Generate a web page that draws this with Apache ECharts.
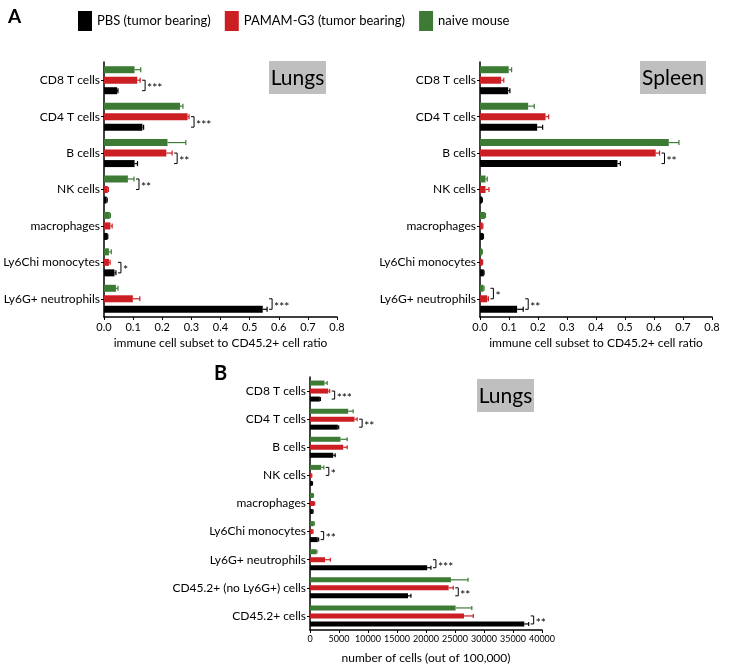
<!DOCTYPE html>
<html><head><meta charset="utf-8">
<script src="https://cdn.jsdelivr.net/npm/echarts@6/dist/echarts.min.js"></script>
<style>html,body{margin:0;padding:0;background:#fff}#c{width:741px;height:669px}</style>
</head><body><div id="c"></div>
<script>
// ---------- data ----------
const seriesNames = ['naive mouse', 'PAMAM-G3 (tumor bearing)', 'PBS (tumor bearing)'];
const legendOrder = ['PBS (tumor bearing)', 'PAMAM-G3 (tumor bearing)', 'naive mouse'];

const categoriesA = ['CD8 T cells', 'CD4 T cells', 'B cells', 'NK cells', 'macrophages', 'Ly6Chi monocytes', 'Ly6G+ neutrophils'];
const categoriesB = ['CD8 T cells', 'CD4 T cells', 'B cells', 'NK cells', 'macrophages', 'Ly6Chi monocytes', 'Ly6G+ neutrophils', 'CD45.2+ (no Ly6G+) cells', 'CD45.2+ cells'];

// Panel A - Lungs (ratio)
const lungsNaive    = [0.105, 0.261, 0.218, 0.082, 0.020, 0.017, 0.041];
const lungsNaiveErr = [0.021, 0.010, 0.063, 0.021, 0.002, 0.008, 0.007];
const lungsPamam    = [0.114, 0.287, 0.214, 0.013, 0.022, 0.017, 0.099];
const lungsPamamErr = [0.010, 0.005, 0.020, 0.002, 0.006, 0.004, 0.024];
const lungsPbs      = [0.045, 0.132, 0.105, 0.009, 0.012, 0.036, 0.545];
const lungsPbsErr   = [0.003, 0.004, 0.010, 0.002, 0.001, 0.005, 0.015];
// significance: [category index, pair (0 = naive vs PAMAM, 1 = PAMAM vs PBS), number of stars]
const lungsSig = [[0, 1, 3], [1, 1, 3], [2, 1, 2], [3, 0, 2], [5, 1, 1], [6, 1, 3]];

// Panel A - Spleen (ratio)
const spleenNaive    = [0.099, 0.166, 0.651, 0.019, 0.017, 0.007, 0.012];
const spleenNaiveErr = [0.010, 0.021, 0.035, 0.006, 0.002, 0.001, 0.002];
const spleenPamam    = [0.073, 0.226, 0.606, 0.019, 0.009, 0.008, 0.025];
const spleenPamamErr = [0.009, 0.011, 0.013, 0.012, 0.001, 0.001, 0.004];
const spleenPbs      = [0.097, 0.197, 0.474, 0.007, 0.011, 0.013, 0.128];
const spleenPbsErr   = [0.006, 0.019, 0.010, 0.001, 0.001, 0.001, 0.021];
const spleenSig = [[2, 1, 2], [6, 0, 1], [6, 1, 2]];

// Panel B - Lungs (number of cells)
const cellsNaive    = [2500, 6580, 5260, 1930, 550, 660, 1100, 24300, 25100];
const cellsNaiveErr = [460, 860, 1150, 450, 50, 80, 100, 2950, 2800];
const cellsPamam    = [3140, 7670, 5720, 260, 720, 480, 2600, 23900, 26550];
const cellsPamamErr = [250, 460, 690, 50, 100, 50, 900, 800, 1600];
const cellsPbs      = [1700, 4800, 4000, 380, 480, 1340, 20200, 16900, 36950];
const cellsPbsErr   = [100, 150, 340, 50, 50, 150, 650, 500, 750];
const cellsSig = [[0, 1, 3], [1, 1, 2], [3, 0, 1], [5, 1, 2], [6, 1, 3], [7, 1, 2], [8, 1, 2]];

const ticksA = [0, 0.8, 0.1];
const ticksB = [0, 40000, 5000];

// ---------- styling ----------
const FONT = 'Lato, "Liberation Sans", sans-serif';
const colors = ['#3d7b35', '#cc1f24', '#000000'];

function panel(g, cats, vals, errs, sig, barW, gapFrac, cap) {
  const sp = barW * (1 + gapFrac);
  const series = [];
  for (let s = 0; s < 3; s++) {
    series.push({
      type: 'bar', name: seriesNames[s], xAxisIndex: g, yAxisIndex: g,
      data: vals[s], barWidth: barW, barGap: (gapFrac * 100) + '%',
      itemStyle: { color: colors[s] }, silent: true, z: 2
    });
  }
  const errData = [];
  for (let s = 0; s < 3; s++) {
    vals[s].forEach((v, i) => errData.push([i, v, errs[s][i], s]));
  }
  series.push({
    type: 'custom', xAxisIndex: g, yAxisIndex: g, silent: true, z: 3,
    data: errData, encode: { x: 1, y: 0 },
    renderItem: (params, api) => {
      const cat = api.value(0), v = api.value(1), e = api.value(2), s = api.value(3);
      const a = api.coord([v, cat]), b = api.coord([v + e, cat]);
      const y = a[1] + (s - 1) * sp;
      const col = colors[s];
      return { type: 'group', children: [
        { type: 'line', shape: { x1: a[0], y1: y, x2: b[0], y2: y }, style: { stroke: col, lineWidth: 1.2 } },
        { type: 'line', shape: { x1: b[0], y1: y - cap, x2: b[0], y2: y + cap }, style: { stroke: col, lineWidth: 1.2 } }
      ] };
    }
  });
  const sigData = sig.map(([c, pair, n]) => {
    const end = Math.max(vals[pair][c] + errs[pair][c], vals[pair + 1][c] + errs[pair + 1][c]);
    return [c, pair, n, end];
  });
  series.push({
    type: 'custom', xAxisIndex: g, yAxisIndex: g, silent: true, z: 4,
    data: sigData, encode: { x: 3, y: 0 },
    renderItem: (params, api) => {
      const c = api.value(0), pair = api.value(1), n = api.value(2), end = api.value(3);
      const p = api.coord([end, c]);
      const y1 = p[1] + (pair - 1) * sp, y2 = p[1] + pair * sp;
      const x = p[0] + 2;
      return { type: 'group', children: [
        { type: 'polyline', shape: { points: [[x, y1], [x + 3, y1], [x + 3, y2], [x, y2]] },
          style: { stroke: '#000', lineWidth: 1, fill: null } },
        { type: 'text', x: x + 5, y: (y1 + y2) / 2 + 3,
          style: { text: '*'.repeat(n), fontSize: 12, fontFamily: FONT, fill: '#000', verticalAlign: 'middle', align: 'left' } }
      ] };
    }
  });
  return series;
}

function xAxis(g, ticks, name, fmt, fs, gap) {
  return {
    gridIndex: g, type: 'value', min: ticks[0], max: ticks[1], interval: ticks[2],
    axisLine: { show: true, onZero: false, lineStyle: { color: '#000', width: 1.5 } },
    axisTick: { show: true, length: 3, lineStyle: { color: '#000' } },
    splitLine: { show: false },
    axisLabel: { formatter: fmt, fontSize: fs, color: '#000', margin: 5, fontFamily: FONT,
                 showMaxLabel: true, showMinLabel: true, hideOverlap: false },
    name: name, nameLocation: 'middle', nameGap: gap,
    nameTextStyle: { fontSize: 12, color: '#000', fontFamily: FONT }
  };
}
function yAxis(g, cats) {
  return {
    gridIndex: g, type: 'category', data: cats, inverse: true,
    axisLine: { show: true, lineStyle: { color: '#000', width: 1.5 } },
    axisTick: { show: true, alignWithLabel: true, length: 3, lineStyle: { color: '#000' } },
    axisLabel: { fontSize: 12, color: '#000', margin: 4, fontFamily: FONT, interval: 0 }
  };
}

const option = {
  animation: false,
  backgroundColor: '#fff',
  textStyle: { fontFamily: FONT },
  legend: {
    data: legendOrder, left: 73, top: 6, icon: 'rect', itemWidth: 14, itemHeight: 20, itemGap: 14,
    selectedMode: false, textStyle: { fontSize: 13, color: '#000', fontFamily: FONT }
  },
  grid: [
    { left: 104, top: 62, width: 233, height: 255 },
    { left: 480, top: 62, width: 232, height: 255 },
    { left: 310, top: 377, width: 232, height: 253 }
  ],
  xAxis: [
    xAxis(0, ticksA, 'immune cell subset to CD45.2+ cell ratio', v => v.toFixed(1), 11, 20),
    xAxis(1, ticksA, 'immune cell subset to CD45.2+ cell ratio', v => v.toFixed(1), 11, 20),
    xAxis(2, ticksB, 'number of cells (out of 100,000)', v => String(v), 9, 22)
  ],
  yAxis: [yAxis(0, categoriesA), yAxis(1, categoriesA), yAxis(2, categoriesB)],
  graphic: [
    { type: 'text', left: 8, top: 7, style: { text: 'A', fontSize: 19, fontWeight: 'bold', fill: '#000', fontFamily: FONT } },
    { type: 'text', left: 214, top: 364, style: { text: 'B', fontSize: 20, fontWeight: 'bold', fill: '#000', fontFamily: FONT } },
    { type: 'group', left: 269, top: 61, children: [
      { type: 'rect', shape: { x: 0, y: 0, width: 57, height: 33 }, style: { fill: '#bfbfbf' } },
      { type: 'text', x: 28.5, y: 17, style: { text: 'Lungs', fontSize: 21, fill: '#000', align: 'center', verticalAlign: 'middle', fontFamily: FONT } }
    ] },
    { type: 'group', left: 640, top: 61, children: [
      { type: 'rect', shape: { x: 0, y: 0, width: 66, height: 33 }, style: { fill: '#bfbfbf' } },
      { type: 'text', x: 33, y: 17, style: { text: 'Spleen', fontSize: 21, fill: '#000', align: 'center', verticalAlign: 'middle', fontFamily: FONT } }
    ] },
    { type: 'group', left: 477, top: 379, children: [
      { type: 'rect', shape: { x: 0, y: 0, width: 57, height: 33 }, style: { fill: '#bfbfbf' } },
      { type: 'text', x: 28.5, y: 17, style: { text: 'Lungs', fontSize: 21, fill: '#000', align: 'center', verticalAlign: 'middle', fontFamily: FONT } }
    ] }
  ],
  series: [
    ...panel(0, categoriesA, [lungsNaive, lungsPamam, lungsPbs], [lungsNaiveErr, lungsPamamErr, lungsPbsErr], lungsSig, 7, 0.5, 2.5),
    ...panel(1, categoriesA, [spleenNaive, spleenPamam, spleenPbs], [spleenNaiveErr, spleenPamamErr, spleenPbsErr], spleenSig, 7, 0.5, 2.5),
    ...panel(2, categoriesB, [cellsNaive, cellsPamam, cellsPbs], [cellsNaiveErr, cellsPamamErr, cellsPbsErr], cellsSig, 5, 0.6, 2)
  ]
};
const chart = echarts.init(document.getElementById('c'), null, { renderer: 'canvas' });
chart.setOption(option);
</script></body></html>
